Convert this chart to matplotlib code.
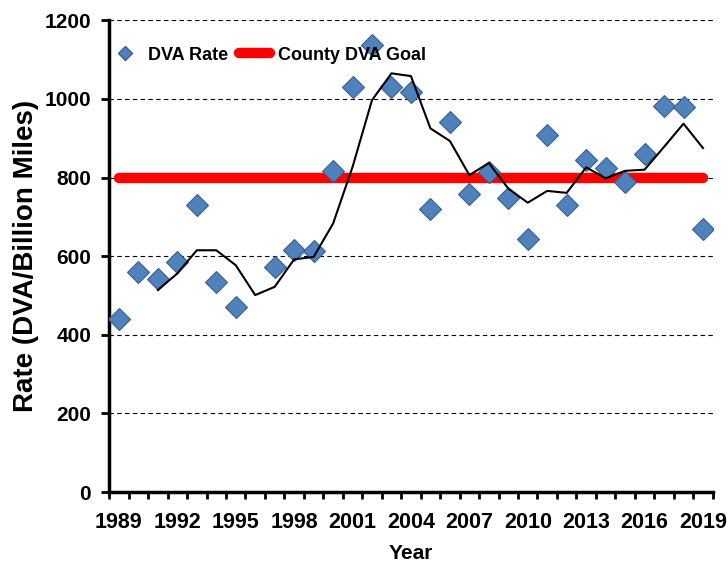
import numpy as np
import matplotlib.pyplot as plt
from matplotlib.lines import Line2D

# Data
years = list(range(1989, 2020))
dva_rate = [441, 560, 541, 586, 730, 535, 471, np.nan, 573, 615,
            614, 816, 1031, 1137, 1029, 1018, 719, 942, 758, 815,
            747, 643, 908, 731, 844, 823, 789, 859, 982, 980, 669]
# 3-year average line (starts in 1991)
avg_line = [np.nan, np.nan, 514, 556, 615, 615, 577, 501, 522, 592,
            598, 683, 827, 997, 1065, 1058, 925, 893, 806, 837,
            772, 736, 766, 761, 826, 798, 817, 820, 878, 937, 875]
goal = 800
tick_years = [1989, 1992, 1995, 1998, 2001, 2004, 2007, 2010, 2013, 2016, 2019]

plt.rcParams['font.family'] = ['Liberation Sans', 'DejaVu Sans']
plt.rcParams['font.weight'] = 'bold'

fig = plt.figure(figsize=(7.28, 5.63), dpi=100)
ax = fig.add_axes([0.15, 0.126, 0.829, 0.838])

x = np.arange(len(years))
ax.plot([x[0], x[-1]], [goal, goal], color='#ff0000', lw=7.5,
        solid_capstyle='round', zorder=2)
ax.plot(x, dva_rate, linestyle='none', marker='D', markersize=11.5,
        markerfacecolor='#4f81bd', markeredgecolor='#3a5f8c',
        markeredgewidth=0.8, zorder=3)
ax.plot(x, avg_line, color='black', lw=1.5, zorder=4)

# category axis: ticks at boundaries, labels at centers
ax.set_xlim(-0.5, len(years) - 0.5)
ax.set_xticks(np.arange(len(years) + 1) - 0.5)
ax.set_xticklabels([])
ax.set_xticks([years.index(y) for y in tick_years], minor=True)
ax.set_xticklabels([str(y) for y in tick_years], minor=True,
                   fontsize=15.5, fontweight='bold')
ax.tick_params(axis='x', which='minor', length=0, pad=14)
ax.tick_params(axis='x', which='major', length=5, width=2, direction='out')

ax.set_ylim(0, 1200)
ax.set_yticks(np.arange(0, 1201, 200))
ax.tick_params(axis='y', length=6, width=2, labelsize=15, pad=7)
for lbl in ax.get_yticklabels():
    lbl.set_fontweight('bold')

ax.yaxis.grid(True, linestyle=(0, (4, 3)), color='black', lw=0.8)
ax.set_axisbelow(True)
for s in ['top', 'right']:
    ax.spines[s].set_visible(False)
ax.spines['left'].set_linewidth(2.5)
ax.spines['bottom'].set_linewidth(2.5)

ax.set_xlabel('Year', fontsize=15, fontweight='bold', labelpad=8)
ax.set_ylabel('Rate (DVA/Billion Miles)', fontsize=20, fontweight='bold', labelpad=4)

handles = [Line2D([], [], linestyle='none', marker='D', markersize=7,
                  markerfacecolor='#4f81bd', markeredgecolor='#3a5f8c'),
           Line2D([], [], color='#ff0000', lw=7.5, solid_capstyle='round')]
ax.legend(handles, ['DVA Rate', 'County DVA Goal'], ncol=2, frameon=False,
          loc='upper left', bbox_to_anchor=(0.0, 0.944), borderaxespad=0,
          borderpad=0, handlelength=1.7, columnspacing=0.6, handletextpad=0.45,
          prop={'weight': 'bold', 'size': 13})

fig.savefig('out.png', dpi=100)
